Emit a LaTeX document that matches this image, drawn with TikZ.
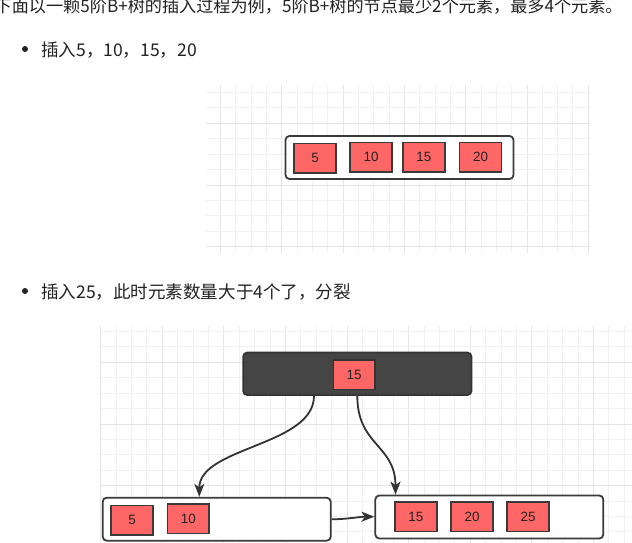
\documentclass[tikz,border=0pt]{standalone}
\usepackage{fontspec}
\setsansfont{Liberation Sans}
\newfontfamily\cjk{Noto Sans CJK SC}
\usetikzlibrary{arrows.meta}
\definecolor{redfill}{HTML}{FF6666}
\definecolor{bord}{HTML}{3A3A3A}
\definecolor{rootfill}{HTML}{454545}
\definecolor{gridminor}{HTML}{F1F1F1}
\definecolor{gridmajor}{HTML}{E4E4E4}
\definecolor{txt}{HTML}{222222}
\definecolor{conncol}{HTML}{333333}
\tikzset{
  redbox/.style={draw=bord, fill=redfill, line width=1.6bp, minimum width=41.8bp,
    minimum height=29.6bp, inner sep=0pt, font=\sffamily\fontsize{13.5}{13.5}\selectfont, text=txt},
  leafbox/.style={draw=bord, fill=white, line width=1.8bp, rounded corners=4bp,
    minimum width=228bp, minimum height=43bp, inner sep=0pt},
  rootbox/.style={draw=conncol, fill=rootfill, line width=1.6bp, rounded corners=4bp,
    minimum width=228.4bp, minimum height=42.6bp, inner sep=0pt},
  bodytext/.style={anchor=base west, inner sep=0pt, text=txt, font=\cjk\fontsize{17.6}{17.6}\selectfont},
  conn/.style={draw=conncol, line width=1.8bp, -{Stealth[length=13bp,width=10bp,inset=3.5bp]}},
  gminor/.style={draw=gridminor, line width=1bp},
  gmajor/.style={draw=gridmajor, line width=1bp},
}
\begin{document}
\begin{tikzpicture}[x=1bp,y=-1bp]
\useasboundingbox (0,0) rectangle (632,543);
\clip (0,0) rectangle (632,543);
\fill[white] (0,0) rectangle (632,543);
% grid 1
\foreach \k in {0,...,24}{
  \pgfmathtruncatemacro{\m}{mod(\k,4)}
  \ifnum\m=0 \draw[gmajor] ({220.4+15.33*\k},85) -- ({220.4+15.33*\k},253);
  \else \draw[gminor] ({220.4+15.33*\k},85) -- ({220.4+15.33*\k},253); \fi
}
\foreach \j in {0,...,10}{
  \pgfmathtruncatemacro{\m}{mod(\j,4)}
  \ifnum\m=2 \draw[gmajor] (206,{92.5+15.42*\j}) -- (590,{92.5+15.42*\j});
  \else \draw[gminor] (206,{92.5+15.42*\j}) -- (590,{92.5+15.42*\j}); \fi
}
% grid 2
\foreach \k in {0,...,34}{
  \pgfmathtruncatemacro{\m}{mod(\k,4)}
  \ifnum\m=0 \draw[gmajor] ({100.6+15.4*\k},325.5) -- ({100.6+15.4*\k},543);
  \else \draw[gminor] ({100.6+15.4*\k},325.5) -- ({100.6+15.4*\k},543); \fi
}
\foreach \j in {0,...,13}{
  \pgfmathtruncatemacro{\m}{mod(\j,4)}
  \ifnum\m=2 \draw[gmajor] (101,{331.5+15.42*\j}) -- (632,{331.5+15.42*\j});
  \else \draw[gminor] (101,{331.5+15.42*\j}) -- (632,{331.5+15.42*\j}); \fi
}
% texts
\node[bodytext, font=\cjk\fontsize{17.2}{17.2}\selectfont] (t0) at (-5.5,13) {下面以一颗5阶B+树的插入过程为例，5阶B+树的节点最少2个元素，最多4个元素。};
\fill[txt] (25,49) circle (3);
\node[bodytext] (t1) at (41,56.5) {插入5，10，15，20};
\fill[txt] (25,291) circle (3);
\node[bodytext] (t2) at (41,298.5) {插入25，此时元素数量大于4个了，分裂};
% diagram 1
\node[leafbox] (n1) at (399.5,157.5) {};
\node[redbox] (a5) at (315,158.3) {5};
\node[redbox] (a10) at (371,157.2) {10};
\node[redbox] (a15) at (423.8,157.2) {15};
\node[redbox] (a20) at (480.5,157.2) {20};
% diagram 2
\node[rootbox] (root) at (357.3,373.8) {};
\node[redbox, draw=conncol] (r15) at (354.2,374.5) {15};
\node[leafbox] (lleaf) at (216.7,519.2) {};
\node[redbox] (l5) at (132,520.2) {5};
\node[redbox] (l10) at (188.3,518.8) {10};
\node[leafbox] (rleaf) at (489.3,517) {};
\node[redbox] (s15) at (415.8,516.8) {15};
\node[redbox] (s20) at (472,516.8) {20};
\node[redbox] (s25) at (528,516.8) {25};
% connectors
\draw[conn] ([xshift=-43.3bp]root.south) .. controls +(0,50) and +(0,-50) .. ([xshift=-17.4bp]lleaf.north);
\draw[conn] ([xshift=0bp]root.south) .. controls +(0,50) and +(0,-50) .. ([xshift=-93.8bp]rleaf.north);
\draw[conn] ([yshift=-0.1bp]lleaf.east) .. controls +(15,0) and +(-15,0) .. ([yshift=0.3bp]rleaf.west);
\end{tikzpicture}
\end{document}
